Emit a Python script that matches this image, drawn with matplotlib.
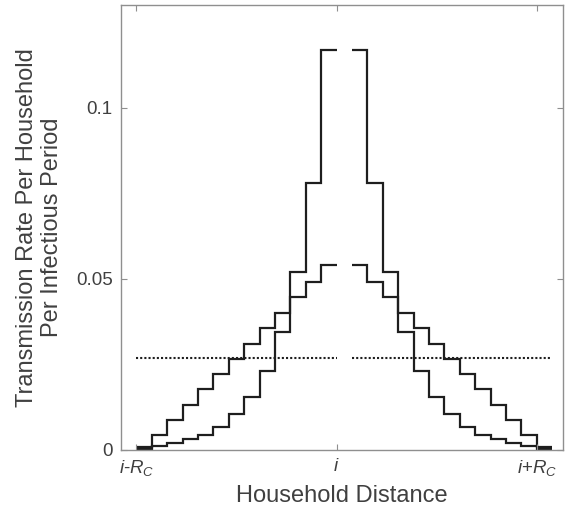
import numpy as np
import matplotlib.pyplot as plt

plt.rcParams['font.family'] = ['Liberation Sans', 'DejaVu Sans']
plt.rcParams['mathtext.fontset'] = 'custom'
plt.rcParams['mathtext.it'] = 'Liberation Sans:italic'
plt.rcParams['mathtext.rm'] = 'Liberation Sans'

# -------------------------
# Data
# -------------------------
R_C = 13
dist = np.arange(1, R_C + 1)   # household distance 1..R_C

# transmission rate per household, distance 1..13
rate_peaked = [0.1169, 0.0780, 0.0520, 0.0401, 0.0357, 0.0311, 0.0267,
               0.0222, 0.0177, 0.0131, 0.0087, 0.0044, 0.0010]
rate_smooth = [0.0539, 0.0491, 0.0447, 0.0345, 0.0231, 0.0155, 0.0105,
               0.0068, 0.0044, 0.0031, 0.0021, 0.0012, 0.0002]
rate_flat = [0.0268] * R_C

x_ticks = [-R_C, 0, R_C]
x_ticklabels = [r'$i$-$R_C$', r'$i$', r'$i$+$R_C$']
y_ticks = [0, 0.05, 0.1]
y_ticklabels = ['0', '0.05', '0.1']

# -------------------------
# Plotting
# -------------------------
fig = plt.figure(figsize=(5.65, 5.18), dpi=100)
ax = fig.add_axes([0.2142, 0.1313, 0.7823, 0.859])

edges_left = np.arange(-R_C, 1)
edges_right = np.arange(1, R_C + 2)

line_col = '#1e1e1e'
for rate in (rate_peaked, rate_smooth):
    r = np.asarray(rate)
    ax.stairs(r[::-1], edges_left, baseline=None, color=line_col, lw=1.6)
    ax.stairs(r, edges_right, baseline=None, color=line_col, lw=1.6)

# flat kernel, dotted
flat = np.asarray(rate_flat)
ax.stairs(flat, edges_left, baseline=None, color=line_col, lw=1.5, linestyle=(0, (1, 1)))
ax.stairs(flat, edges_right, baseline=None, color=line_col, lw=1.5, linestyle=(0, (1, 1)))

ax.set_xlim(-14, 14.7)
ax.set_ylim(0, 0.13)
ax.set_xticks(x_ticks)
ax.set_xticklabels(x_ticklabels)
ax.set_yticks(y_ticks)
ax.set_yticklabels(y_ticklabels)

spine_col = '#8f8f8f'
text_col = '#404040'
for s in ax.spines.values():
    s.set_color(spine_col)
    s.set_linewidth(1.0)
ax.tick_params(direction='in', length=4, width=0.8, color=spine_col,
               labelcolor=text_col, labelsize=13.5, top=True, right=True, pad=6)

ax.set_xlabel('Household Distance', fontsize=17, color=text_col, labelpad=5)
ax.set_ylabel('Transmission Rate Per Household\nPer Infectious Period',
              fontsize=17, color=text_col, labelpad=9)

fig.savefig('out.png', dpi=100)
